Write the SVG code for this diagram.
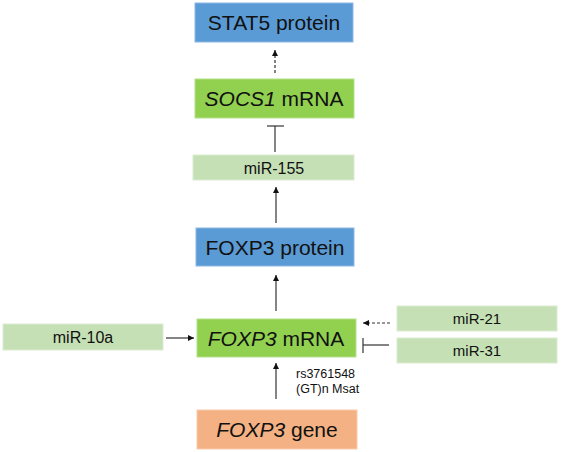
<svg xmlns="http://www.w3.org/2000/svg" width="561" height="452" viewBox="0 0 561 452">
<style>
text{font-family:"Liberation Sans",Arial,sans-serif;fill:#111;text-anchor:middle}
.big{font-size:21px}
.sm{font-size:16px}
.sm2{font-size:15px}
.lbl{font-size:12.5px;text-anchor:start}
.blue{fill:#5B9BD5;stroke:#8DB8E3;stroke-width:1}
.green{fill:#92D050;stroke:#B3E08A;stroke-width:1}
.lg{fill:#C5E0B4;stroke:#DAEBD0;stroke-width:1}
.orange{fill:#F4B183;stroke:#F8CBAD;stroke-width:1}
.ln{stroke:#333;stroke-width:1.2;fill:none}
.dash{stroke-dasharray:3,2}
</style>
<defs>
<marker id="ah" viewBox="0 0 10 10" refX="10" refY="5" markerWidth="6" markerHeight="6" markerUnits="userSpaceOnUse" orient="auto">
<path d="M0,0 L10,5 L0,10 z" fill="#111"/>
</marker>
</defs>
<g id="stat5"><rect class="blue" x="195" y="3" width="158" height="39"/><text class="big" x="274" y="30">STAT5 protein</text></g>
<g id="socs1"><rect class="green" x="195" y="79" width="159" height="39"/><text class="big" x="274" y="106"><tspan font-style="italic">SOCS1</tspan> mRNA</text></g>
<g id="mir155"><rect class="lg" x="193" y="155" width="161" height="25"/><text class="sm" x="274" y="174">miR-155</text></g>
<g id="foxp3protein"><rect class="blue" x="196" y="228" width="158" height="38"/><text class="big" x="275" y="255">FOXP3 protein</text></g>
<g id="foxp3mrna"><rect class="green" x="197" y="319" width="159" height="38"/><text class="big" x="276" y="346"><tspan font-style="italic">FOXP3</tspan> mRNA</text></g>
<g id="foxp3gene"><rect class="orange" x="197" y="410" width="160" height="39"/><text class="big" x="277" y="437"><tspan font-style="italic">FOXP3</tspan> gene</text></g>
<g id="mir10a"><rect class="lg" x="3" y="324" width="160" height="26"/><text class="sm" x="83" y="343">miR-10a</text></g>
<g id="mir21"><rect class="lg" x="397" y="306" width="160" height="25"/><text class="sm2" x="477" y="324">miR-21</text></g>
<g id="mir31"><rect class="lg" x="397" y="338" width="160" height="25"/><text class="sm2" x="477" y="356">miR-31</text></g>
<g id="connectors">
<line class="ln dash" x1="275" y1="73" x2="275" y2="50" marker-end="url(#ah)"/>
<line class="ln" x1="275" y1="152" x2="275" y2="126"/>
<line class="ln" x1="267" y1="126" x2="284" y2="126"/>
<line class="ln" x1="276" y1="223" x2="276" y2="187" marker-end="url(#ah)"/>
<line class="ln" x1="276" y1="311" x2="276" y2="275" marker-end="url(#ah)"/>
<line class="ln" x1="276" y1="399" x2="276" y2="363" marker-end="url(#ah)"/>
<line class="ln" x1="166" y1="338" x2="194" y2="338" marker-end="url(#ah)"/>
<line class="ln dash" x1="390" y1="323" x2="363" y2="323" marker-end="url(#ah)"/>
<line class="ln" x1="389" y1="345" x2="363" y2="345"/>
<line class="ln" x1="363" y1="338" x2="363" y2="353"/>
</g>
<g id="snp-label"><text class="lbl" x="296" y="378">rs3761548</text><text class="lbl" x="296" y="393">(GT)n Msat</text></g>
</svg>
